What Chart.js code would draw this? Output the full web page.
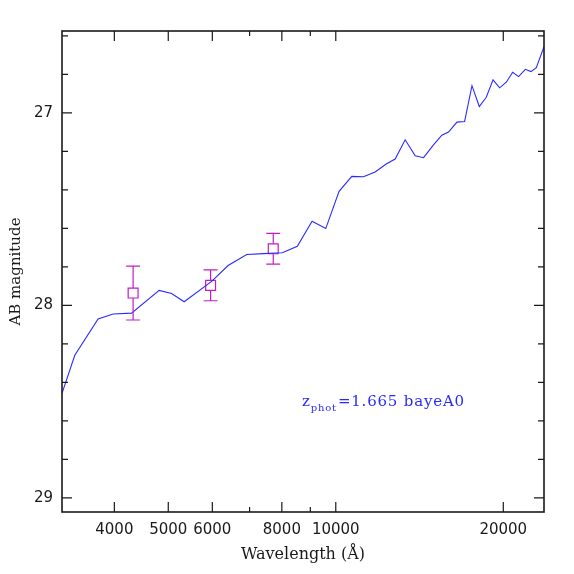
<!DOCTYPE html>
<html>
<head>
<meta charset="utf-8">
<script src="https://cdn.jsdelivr.net/npm/chart.js@4/dist/chart.umd.min.js"></script>
<style>
  html, body { margin: 0; padding: 0; background: #fff; }
  #wrap { width: 574px; height: 574px; }
</style>
</head>
<body>
<div id="wrap"><canvas id="sed"></canvas></div>
<script>
// model spectrum (wavelength in Angstrom, AB mag)
var modelWave = [3221, 3396, 3740, 3980, 4295, 4815, 5070, 5340, 5990, 6404, 6918, 7413, 8016, 8529,
    9066, 9594, 10137, 10686, 11212, 11770, 12318, 12785, 13326, 13890, 14379, 14983, 15510, 15945,
    16510, 17040, 17570, 18110, 18640, 19170, 19700, 20250, 20790, 21310, 21910, 22430, 22930, 23670];
var modelMag = [28.457, 28.259, 28.071, 28.045, 28.040, 27.922, 27.938, 27.981, 27.874, 27.793, 27.736, 27.731, 27.727, 27.693,
    27.563, 27.601, 27.408, 27.330, 27.332, 27.307, 27.266, 27.240, 27.140, 27.223, 27.233, 27.166, 27.116, 27.100,
    27.048, 27.045, 26.859, 26.967, 26.919, 26.829, 26.870, 26.841, 26.789, 26.812, 26.774, 26.786, 26.765, 26.656];

// observed photometry
var obsWave = [4323, 5957, 7720];
var obsMag = [27.936, 27.896, 27.706];
var obsErr = [0.14, 0.08, 0.08];

// axes
var xTicks = [4000, 5000, 6000, 7000, 8000, 9000, 10000, 20000];
var xLabels = [4000, 5000, 6000, 8000, 10000, 20000];
var yTicks = [26.6, 26.8, 27.0, 27.2, 27.4, 27.6, 27.8, 28.0, 28.2, 28.4, 28.6, 28.8, 29.0];
var yLabels = [27, 28, 29];

var annoText = ['z', 'phot', '=1.665 bayeA0'];
var annoPos = [8700, 28.52];

var blue = '#2a2aff';
var magenta = '#c41cc4';
var ink = '#1a1a1a';

var frame = {
    id: 'frame',
    afterDatasetsDraw: function (chart) {
        var c = chart.ctx, a = chart.chartArea;
        var xs = chart.scales.x, ys = chart.scales.y;
        c.save();
        // error bars
        c.strokeStyle = magenta;
        c.lineWidth = 1.2;
        for (var i = 0; i < obsWave.length; i++) {
            var px = xs.getPixelForValue(obsWave[i]);
            var py = ys.getPixelForValue(obsMag[i]);
            var top = ys.getPixelForValue(obsMag[i] - obsErr[i]);
            var bot = ys.getPixelForValue(obsMag[i] + obsErr[i]);
            c.beginPath();
            c.moveTo(px, top); c.lineTo(px, py - 5);
            c.moveTo(px, py + 5); c.lineTo(px, bot);
            c.moveTo(px - 7, top); c.lineTo(px + 7, top);
            c.moveTo(px - 7, bot); c.lineTo(px + 7, bot);
            c.stroke();
        }
        // box
        c.strokeStyle = ink;
        c.lineWidth = 1.6;
        c.strokeRect(a.left, a.top, a.right - a.left, a.bottom - a.top);
        c.lineWidth = 1.2;
        c.beginPath();
        xTicks.forEach(function (v) {
            var p = xs.getPixelForValue(v);
            var len = xLabels.indexOf(v) >= 0 ? 10 : 5;
            c.moveTo(p, a.bottom); c.lineTo(p, a.bottom - len);
            c.moveTo(p, a.top); c.lineTo(p, a.top + len);
        });
        yTicks.forEach(function (v) {
            var p = ys.getPixelForValue(v);
            var len = yLabels.indexOf(Math.round(v * 10) / 10) >= 0 ? 10 : 6;
            c.moveTo(a.left, p); c.lineTo(a.left + len, p);
            c.moveTo(a.right, p); c.lineTo(a.right - len, p);
        });
        c.stroke();
        // annotation
        var ax = xs.getPixelForValue(annoPos[0]);
        var ay = ys.getPixelForValue(annoPos[1]);
        c.fillStyle = blue;
        c.textBaseline = 'alphabetic';
        c.letterSpacing = '0.8px';
        c.font = '15px "DejaVu Serif"';
        c.fillText(annoText[0], ax, ay);
        var w0 = c.measureText(annoText[0]).width;
        c.font = '10px "DejaVu Serif"';
        c.fillText(annoText[1], ax + w0, ay + 5);
        var w1 = c.measureText(annoText[1]).width;
        c.font = '15px "DejaVu Serif"';
        c.fillText(annoText[2], ax + w0 + w1 + 1, ay);
        c.restore();
    }
};

var ctx = document.getElementById('sed').getContext('2d');
var myChart = new Chart(ctx, {
    type: 'scatter',
    data: {
        datasets: [{
            data: modelWave.map(function (w, i) { return { x: w, y: modelMag[i] }; }),
            showLine: true,
            borderColor: blue,
            borderWidth: 1.1,
            pointRadius: 0,
            tension: 0
        }, {
            data: obsWave.map(function (w, i) { return { x: w, y: obsMag[i] }; }),
            showLine: false,
            pointStyle: 'rect',
            pointRadius: 7,
            pointBorderWidth: 1.2,
            pointBorderColor: magenta,
            pointBackgroundColor: 'rgba(0,0,0,0)'
        }]
    },
    options: {
        responsive: true,
        maintainAspectRatio: false,
        animation: false,
        devicePixelRatio: 1,
        layout: { padding: { top: 31, right: 30, left: 0, bottom: 0 } },
        plugins: { legend: { display: false }, tooltip: { enabled: false } },
        scales: {
            x: {
                type: 'logarithmic',
                min: 3221,
                max: 23670,
                grid: { display: false, drawTicks: false },
                border: { display: false },
                afterBuildTicks: function (scale) {
                    scale.ticks = xTicks.map(function (v) { return { value: v }; });
                },
                afterFit: function (scale) { scale.height = 62; },
                ticks: {
                    autoSkip: false,
                    maxRotation: 0,
                    padding: 9,
                    color: ink,
                    font: { family: 'DejaVu Sans', size: 15 },
                    callback: function (v) { return xLabels.indexOf(v) >= 0 ? String(v) : ''; }
                },
                title: {
                    display: true,
                    text: 'Wavelength (Å)',
                    color: ink,
                    font: { family: 'DejaVu Serif', size: 16 },
                    padding: { top: 0, bottom: 10 }
                }
            },
            y: {
                type: 'linear',
                reverse: true,
                min: 26.575,
                max: 29.073,
                grid: { display: false, drawTicks: false },
                border: { display: false },
                afterBuildTicks: function (scale) {
                    scale.ticks = yTicks.map(function (v) { return { value: v }; });
                },
                afterFit: function (scale) { scale.width = 62; },
                ticks: {
                    autoSkip: false,
                    padding: 9,
                    color: ink,
                    font: { family: 'DejaVu Sans', size: 15 },
                    callback: function (v) {
                        var r = Math.round(v * 10) / 10;
                        return yLabels.indexOf(r) >= 0 ? String(r) : '';
                    }
                },
                title: {
                    display: true,
                    text: 'AB magnitude',
                    color: ink,
                    font: { family: 'DejaVu Serif', size: 15 },
                    padding: { top: 7, bottom: 0 }
                }
            }
        }
    },
    plugins: [frame]
});
</script>
</body>
</html>
